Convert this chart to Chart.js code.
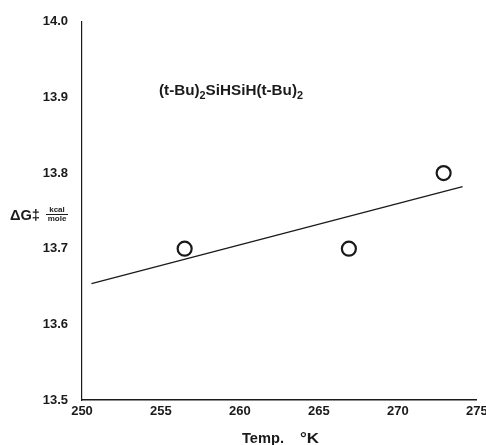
<!DOCTYPE html>
<html>
<head>
<meta charset="utf-8">
<script src="https://cdn.jsdelivr.net/npm/chart.js@4/dist/chart.umd.min.js"></script>
<style>
  html, body { margin: 0; padding: 0; background: #fff; }
  #wrap { width: 486px; height: 445px; }
</style>
</head>
<body>
<div id="wrap"><canvas id="c" width="486" height="445"></canvas></div>
<script>
// measured points (temp °K, ΔG‡ kcal/mole)
const tempK = [256.5, 266.9, 272.9];
const dG = [13.70, 13.70, 13.80];
// fitted line end points
const fitX = [250.6, 274.1];
const fitY = [13.654, 13.782];
const yTicks = [13.5, 13.6, 13.7, 13.8, 13.9, 14.0];
const xTicks = [250, 255, 260, 265, 270, 275];

const INK = '#1a1a1a';
const FAM = 'Arial, "Liberation Sans", sans-serif';
const tickFont = { family: FAM, size: 13, weight: 'bold' };

// write text pieces in a row, squeezed/stretched to a target width
function rowText(ctx, parts, x0, y, target) {
  let w = 0;
  parts.forEach(([t, f]) => { ctx.font = f; w += ctx.measureText(t).width; });
  const k = target / w;
  ctx.save();
  ctx.translate(x0, y);
  ctx.scale(k, 1);
  let x = 0;
  parts.forEach(([t, f, dy]) => {
    ctx.font = f;
    ctx.fillText(t, x, dy);
    x += ctx.measureText(t).width;
  });
  ctx.restore();
}

// labels drawn on the canvas: compound name, y-axis label, x-axis label
const annotations = {
  id: 'annotations',
  afterDraw(chart) {
    const ctx = chart.ctx;
    ctx.save();
    ctx.fillStyle = INK;
    ctx.strokeStyle = INK;
    ctx.textBaseline = 'alphabetic';
    ctx.textAlign = 'left';

    // compound: (t-Bu)2SiHSiH(t-Bu)2
    const big = 'bold 14px ' + FAM;
    const sub = 'bold 10px ' + FAM;
    rowText(ctx, [['(t-Bu)', big, 0], ['2', sub, 4], ['SiHSiH(t-Bu)', big, 0], ['2', sub, 4]], 159, 95, 144);

    // ΔG‡ kcal/mole
    rowText(ctx, [['ΔG‡', 'bold 14px ' + FAM, 0]], 10, 220, 30);
    ctx.font = 'bold 8px ' + FAM;
    ctx.textAlign = 'center';
    ctx.fillText('kcal', 57, 212);
    ctx.fillText('mole', 57, 221);
    ctx.lineWidth = 1;
    ctx.beginPath();
    ctx.moveTo(46, 214.5);
    ctx.lineTo(68, 214.5);
    ctx.stroke();

    // x-axis title
    ctx.textAlign = 'left';
    rowText(ctx, [['Temp.', 'bold 14px ' + FAM, 0]], 242, 443, 42);
    rowText(ctx, [['°K', 'bold 14px ' + FAM, 0]], 300, 443, 19);
    ctx.restore();
  }
};

new Chart(document.getElementById('c'), {
  type: 'scatter',
  data: {
    datasets: [
      {
        label: 'fit',
        type: 'line',
        data: fitX.map((v, i) => ({ x: v, y: fitY[i] })),
        borderColor: INK,
        borderWidth: 1.3,
        pointRadius: 0,
        fill: false
      },
      {
        label: 'ΔG‡',
        data: tempK.map((v, i) => ({ x: v, y: dG[i] })),
        pointStyle: 'circle',
        pointRadius: 7,
        pointBorderWidth: 2.2,
        borderColor: INK,
        backgroundColor: '#fff'
      }
    ]
  },
  options: {
    responsive: false,
    animation: false,
    layout: { padding: { top: 19, right: 0, left: 0, bottom: 0 } },
    plugins: { legend: { display: false }, tooltip: { enabled: false } },
    scales: {
      x: {
        type: 'linear',
        min: 250, max: 275,
        afterBuildTicks: s => { s.ticks = xTicks.map(v => ({ value: v })); },
        afterFit: s => { s.height = 45; s.paddingRight = 7; s.paddingLeft = 0; },
        grid: { display: false, drawTicks: false },
        border: { display: true, color: INK, width: 1.5 },
        ticks: { color: INK, font: tickFont, padding: 4, maxRotation: 0, callback: v => String(v) }
      },
      y: {
        type: 'linear',
        min: 13.5, max: 14.0,
        afterBuildTicks: s => { s.ticks = yTicks.map(v => ({ value: v })); },
        afterFit: s => { s.width = 82; },
        grid: { display: false, drawTicks: false },
        border: { display: true, color: INK, width: 1.2 },
        ticks: { color: INK, font: tickFont, padding: 14, callback: v => v.toFixed(1) }
      }
    }
  },
  plugins: [annotations]
});
</script>
</body>
</html>
